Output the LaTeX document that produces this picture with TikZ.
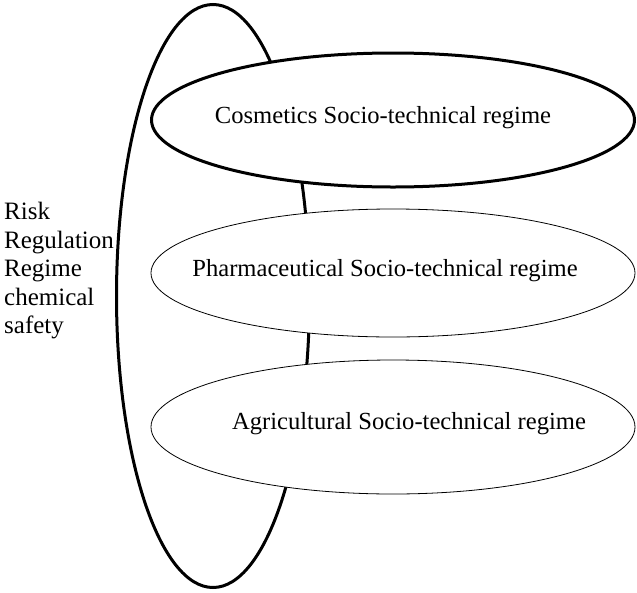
\documentclass[tikz,border=0pt]{standalone}
\usepackage{fontspec}
\setmainfont{Liberation Serif}
\usetikzlibrary{shapes.geometric}
\begin{document}
\begin{tikzpicture}[x=1pt,y=-1pt,
  outer/.style={ellipse, draw, line width=3pt, inner sep=0pt},
  regime/.style={ellipse, draw, fill=white, inner sep=0pt, line width=0.8pt},
  boldregime/.style={regime, line width=3pt},
  regtext/.style={inner sep=0pt, font=\fontsize{24.6}{28}\selectfont},
  sidetext/.style={inner sep=0pt, align=left, font=\fontsize{25}{28.5}\selectfont}]
\useasboundingbox (0,0) rectangle (637,592);
\node[outer, minimum width=193pt, minimum height=583pt] (rrr) at (213,296) {};
\node[boldregime, minimum width=483pt, minimum height=134pt] (cos) at (393,120) {};
\node[regime, minimum width=484pt, minimum height=128pt] (pha) at (393,273) {};
\node[regime, minimum width=484pt, minimum height=134pt] (agr) at (393,427) {};
\node[regtext] (costext) at (383,118) {Cosmetics Socio-technical regime};
\node[regtext] (phatext) at (385,271) {Pharmaceutical Socio-technical regime};
\node[regtext] (agrtext) at (409,424) {Agricultural Socio-technical regime};
\node[sidetext, anchor=west] (risk) at (4,271) {Risk\\Regulation\\Regime\\chemical\\safety};
\end{tikzpicture}
\end{document}
